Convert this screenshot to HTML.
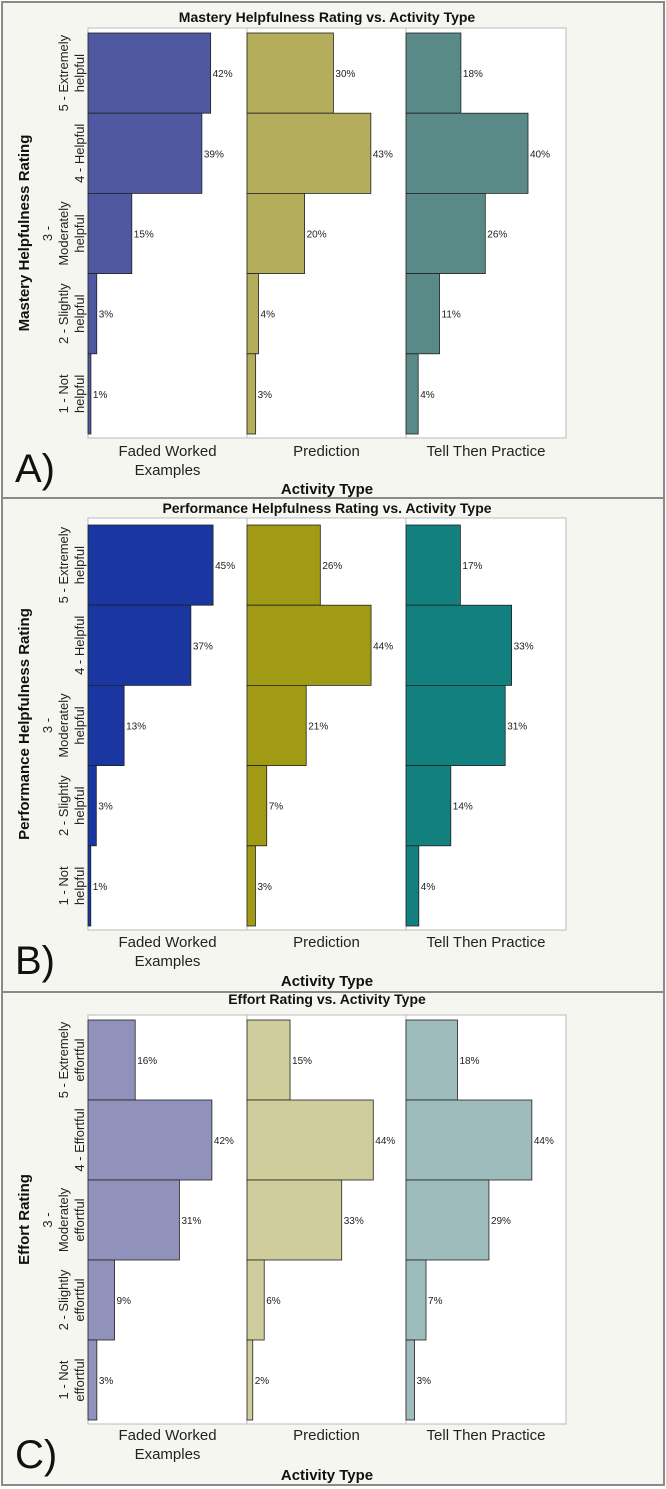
<!DOCTYPE html>
<html><head><meta charset="utf-8"><style>
html,body{margin:0;padding:0;background:#fff}
svg{display:block;font-family:"Liberation Sans",Arial,sans-serif}
</style></head><body>
<svg id="s" width="666" height="1489" viewBox="0 0 666 1489"></svg>
<script>
const categories = ["Faded Worked Examples","Prediction","Tell Then Practice"];
const ratingsA = ["5","4","3","2","1"];
const mastFWE = [42,39,15,3,1];
const mastPred = [30,43,20,4,3];
const mastTell = [18,40,26,11,4];
const perfFWE = [45,37,13,3,1];
const perfPred = [26,44,21,7,3];
const perfTell = [17,33,31,14,4];
const effFWE = [16,42,31,9,3];
const effPred = [15,44,33,6,2];
const effTell = [18,44,29,7,3];
const helpTicks = [["5 - Extremely","helpful"],["4 - Helpful"],["3 -","Moderately","helpful"],["2 - Slightly","helpful"],["1 - Not","helpful"]];
const effTicks = [["5 - Extremely","effortful"],["4 - Effortful"],["3 -","Moderately","effortful"],["2 - Slightly","effortful"],["1 - Not","effortful"]];

const NS="http://www.w3.org/2000/svg";
const svg=document.getElementById('s');
function mk(tag,attrs,parent){const e=document.createElementNS(NS,tag);for(const k in attrs)e.setAttribute(k,attrs[k]);(parent||svg).appendChild(e);return e;}
function txt(str,attrs,parent){const e=mk('text',attrs,parent);e.textContent=str;return e;}

const panels=[
 {letter:"A)",title:"Mastery Helpfulness Rating vs. Activity Type",ytitle:"Mastery Helpfulness Rating",series:[mastFWE,mastPred,mastTell],ticks:helpTicks,colors:["#4f58a0","#b3ad5c","#5a8a88"],scale:[2.92,2.88,3.05],top:2,bot:498,plotTop:28,barTop:33,barBot:434,plotBot:438,titleY:22,catY:456,ttlY:494,letterY:482},
 {letter:"B)",title:"Performance Helpfulness Rating vs. Activity Type",ytitle:"Performance Helpfulness Rating",series:[perfFWE,perfPred,perfTell],ticks:helpTicks,colors:["#1a36a0","#a09a14","#138080"],scale:[2.78,2.82,3.2],top:498,bot:992,plotTop:518,barTop:525,barBot:926,plotBot:930,titleY:513,catY:947,ttlY:986,letterY:974},
 {letter:"C)",title:"Effort Rating vs. Activity Type",ytitle:"Effort Rating",series:[effFWE,effPred,effTell],ticks:effTicks,colors:["#9092bb","#cfcd9c","#9fbcbd"],scale:[2.95,2.87,2.86],top:992,bot:1485,plotTop:1015,barTop:1020,barBot:1420,plotBot:1424,titleY:1004,catY:1440,ttlY:1480,letterY:1468}
];
const fx=[88,247,406,566];

panels.forEach((p,pi)=>{
 const g=mk('g',{});
 
 
 const bg=mk('rect',{x:2,y:p.top,width:662,height:p.bot-p.top,fill:'#f6f6f1',stroke:'#8a8a8a','stroke-width':2},g);
 
 
 const t=txt(p.title,{x:327,y:p.titleY,'text-anchor':'middle','font-size':14,'font-weight':'bold',fill:'#111'},g);
 
 
 const rowH=(p.barBot-p.barTop)/5;
 for(let f=0;f<3;f++){
  const pr=mk('rect',{x:fx[f],y:p.plotTop,width:fx[f+1]-fx[f],height:p.plotBot-p.plotTop,fill:'#fff',stroke:'#bbb','stroke-width':1},g);
  
  
  const vals=p.series[f];
  vals.forEach((v,i)=>{
   const y=p.barTop+i*rowH;const w=v*p.scale[f];
   const b=mk('rect',{x:fx[f],y:y,width:w,height:rowH,fill:p.colors[f],stroke:'#222','stroke-width':0.8},g);
   
   
   const l=txt(v+'%',{x:fx[f]+w+2,y:y+rowH/2+4,'font-size':10,fill:'#222'},g);
   
   
  });
  const cx=(fx[f]+fx[f+1])/2;
  const words=f===0?["Faded Worked","Examples"]:[categories[f]];
  words.forEach((w,k)=>{
   const c=txt(w,{x:cx,y:p.catY+k*19,'text-anchor':'middle','font-size':15,fill:'#222'},g);
   
   
  });
 }
 p.ticks.forEach((lines,i)=>{
  const cy=p.barTop+(i+0.5)*rowH;
  const n=lines.length;
  lines.forEach((ln,k)=>{
   const x=79-(n-1-k)*16+5;
   const tk=txt(ln,{x:x,y:cy,'text-anchor':'middle','font-size':13,fill:'#222',transform:`rotate(-90 ${x} ${cy})`},g);
   
   
  });
 });
 const my=(p.plotTop+p.plotBot)/2;
 const yt=txt(p.ytitle,{x:29,y:my,'text-anchor':'middle','font-size':15,'font-weight':'bold',fill:'#111',transform:`rotate(-90 29 ${my})`},g);
 
 
 const xt=txt("Activity Type",{x:327,y:p.ttlY,'text-anchor':'middle','font-size':15,'font-weight':'bold',fill:'#111'},g);
 
 
 const lt=txt(p.letter,{x:15,y:p.letterY,'font-size':40,fill:'#111'},g);
 
 
});
</script>
</body></html>
